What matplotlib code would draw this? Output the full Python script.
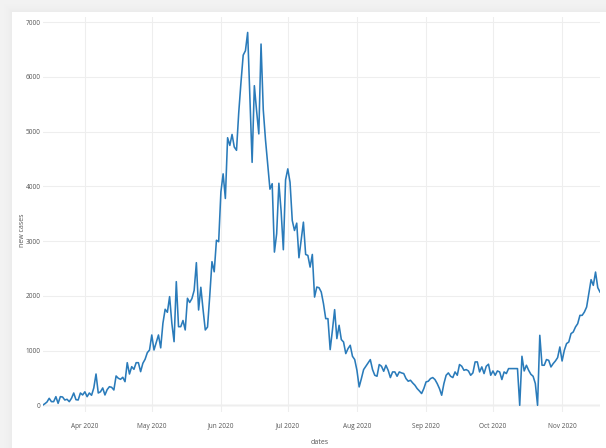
import numpy as np
import pandas as pd
import matplotlib
matplotlib.use("Agg")
import matplotlib.pyplot as plt
import matplotlib.dates as mdates

start_date = "2020-03-13"
end_date = "2020-11-18"

mar = [0, 27, 60, 128, 67, 67, 158, 36, 158, 152, 97, 110, 67, 128, 225, 103, 97, 225, 189]
apr = [247, 158, 225, 183, 317, 572, 225, 247, 317, 189, 287, 340, 329, 280, 536, 494, 475, 512, 432, 779,
       572, 706, 658, 779, 779, 615, 768, 841, 962, 1011]
may = [1285, 1011, 1150, 1285, 1050, 1500, 1755, 1700, 1986, 1500, 1163, 2260, 1437, 1437, 1550, 1377,
       1956, 1880, 1950, 2100, 2607, 1742, 2157, 1750, 1377, 1430, 2000, 2625, 2440, 3017, 2990]
jun = [3900, 4230, 3780, 4890, 4750, 4950, 4720, 4660, 5350, 5900, 6400, 6480, 6814, 5600, 4440, 5841,
       5385, 4960, 6602, 5400, 4850, 4400, 3950, 4050, 2800, 3135, 4058, 3550, 2843, 4120]
jul = [4321, 4077, 3378, 3195, 3329, 2697, 3025, 3347, 2757, 2739, 2526, 2757, 1978, 2161, 2149, 2070,
       1857, 1584, 1584, 1018, 1370, 1748, 1219, 1462, 1201, 1157, 945, 1036, 1097, 896, 836]
aug = [640, 336, 489, 653, 714, 774, 835, 653, 549, 531, 745, 714, 622, 732, 640, 507, 610, 610, 531,
       610, 592, 580, 489, 440, 458, 409, 367, 306, 263, 215, 306]
sep = [428, 440, 489, 507, 470, 397, 306, 184, 397, 549, 592, 531, 507, 610, 549, 745, 714, 640, 653,
       628, 549, 592, 793, 793, 610, 702, 580, 714, 751, 549]
oct_ = [628, 549, 628, 610, 471, 610, 580, 671, 671, 671, 671, 671, 0, 896, 628, 732, 640, 567, 531,
        398, 0, 1279, 732, 732, 836, 822, 701, 762, 810, 872, 1066]
nov = [810, 1005, 1128, 1157, 1310, 1340, 1431, 1492, 1644, 1644, 1705, 1796, 2040, 2296, 2192, 2435,
       2150, 2070]

yticks = [0, 1000, 2000, 3000, 4000, 5000, 6000, 7000]
xtick_dates = ["2020-04-01", "2020-05-01", "2020-06-01", "2020-07-01",
               "2020-08-01", "2020-09-01", "2020-10-01", "2020-11-01"]

values = mar + apr + may + jun + jul + aug + sep + oct_ + nov
dates = pd.date_range(start_date, end_date, freq="D")

W, H = 606, 448
fig = plt.figure(figsize=(W / 100, H / 100), dpi=100)

# background card with soft shadow
bg = fig.add_axes([0, 0, 1, 1], zorder=-10)
yy, xx = np.mgrid[0:H, 0:W]
card_x, card_y = 12, 12
dx = np.clip(card_x - xx, 0, None)
dy = np.clip(card_y - yy, 0, None)
d = np.maximum(dx, dy).astype(float)
outside = (xx < card_x) | (yy < card_y)
level = np.ones((H, W))
level[outside] = 0.955 - 0.035 * np.exp(-d[outside] / 5.0)
img = np.dstack([level, level, level])
bg.imshow(img, aspect="auto", extent=(0, W, H, 0), interpolation="bilinear")
bg.set_xlim(0, W)
bg.set_ylim(H, 0)
bg.axis("off")

left, right, top, bottom = 42.5, 600, 16.8, 411.6
aw, ah = right - left, bottom - top
ax = fig.add_axes([left / W, 1 - bottom / H, aw / W, ah / H])
ax.set_facecolor("white")
ax.plot(dates, values, color="#2a7bba", lw=1.15, solid_joinstyle="round")

ax.set_xlim(pd.Timestamp(start_date), pd.Timestamp(end_date))
ax.set_ylim(-115, 7100)
ax.set_yticks(yticks)
ax.set_yticklabels([str(v) for v in yticks])
ax.set_xticks(pd.to_datetime(xtick_dates))
ax.xaxis.set_major_formatter(mdates.DateFormatter("%b %Y"))

for s in ax.spines.values():
    s.set_visible(False)
ax.grid(True, color="#eeeeee", lw=0.8)
ax.set_axisbelow(True)
ax.axhline(0, color="#d8d8d8", lw=1.0, zorder=0.5)

ax.tick_params(axis="both", length=0, labelsize=4.7, labelcolor="#555555")
ax.tick_params(axis="x", pad=8)
ax.tick_params(axis="y", pad=1.5)
for lab in ax.get_xticklabels() + ax.get_yticklabels():
    lab.set_family(["Open Sans", "DejaVu Sans"])

ax.set_xlabel("dates", fontsize=5.0, color="#555555", family=["Open Sans", "DejaVu Sans"])
ax.set_ylabel("new cases", fontsize=5.0, color="#555555", family=["Open Sans", "DejaVu Sans"])
ax.xaxis.set_label_coords((320 - left) / aw, (bottom - 442) / ah)
ax.xaxis.label.set_va("center")
ax.yaxis.set_label_coords((22 - left) / aw, (bottom - 230) / ah)
ax.yaxis.label.set_va("center")

fig.savefig("out.png", dpi=100)
